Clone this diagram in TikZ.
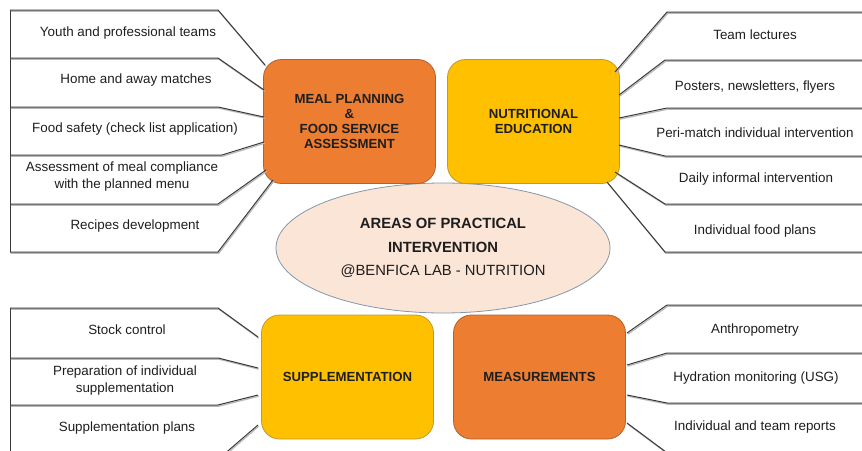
\documentclass[tikz,border=0pt]{standalone}
\usepackage{fontspec}
\setmainfont{Liberation Sans}
\usetikzlibrary{shapes.geometric}
\definecolor{orangebox}{HTML}{ED7D31}
\definecolor{orangeedge}{HTML}{B4622A}
\definecolor{goldbox}{HTML}{FFC000}
\definecolor{goldedge}{HTML}{BF9A2E}
\definecolor{peach}{HTML}{FBE5D6}
\definecolor{peachedge}{HTML}{8497A8}
\definecolor{linkgray}{HTML}{3A3A3A}
\definecolor{linkshade}{HTML}{B8B8B8}
\definecolor{inkgray}{HTML}{1E1E1E}
\tikzset{
  areabox/.style={draw, line width=0.8pt, rounded corners=18pt,
    minimum width=172pt, minimum height=124pt, inner sep=2pt, align=center,
    font=\bfseries\fontsize{13.2}{15}\selectfont, text=inkgray},
  mealbox/.style={areabox, fill=orangebox, draw=orangeedge},
  goldarea/.style={areabox, fill=goldbox, draw=goldedge},
  core/.style={ellipse, draw=peachedge, fill=peach, line width=0.8pt,
    minimum width=334pt, minimum height=130pt, inner sep=0pt, align=center,
    font=\fontsize{14.8}{23.5}\selectfont, text=inkgray},
  item/.style={align=center, inner sep=0pt, text=inkgray,
    font=\fontsize{13.4}{17}\selectfont},
  link/.style={draw=linkgray, line width=1pt,
    preaction={draw=linkshade, line width=1.2pt,
      transform canvas={shift={(0.8pt,-1.2pt)}}}},
}
\begin{document}
\begin{tikzpicture}[x=1pt,y=-1pt]
\useasboundingbox (0,0) rectangle (862,450);

% central topic
\node[core] (core) at (443,248)
  {\textbf{AREAS OF PRACTICAL}\\\textbf{INTERVENTION}\\@BENFICA LAB - NUTRITION};

% the four areas
\node[mealbox] (meal) at (349.5,121.5)
  {MEAL PLANNING\\\&\\FOOD SERVICE\\ASSESSMENT};
\node[goldarea] (edu) at (533.5,121.5) {NUTRITIONAL\\EDUCATION};
\node[goldarea] (supp) at (347.5,377) {SUPPLEMENTATION};
\node[mealbox] (meas) at (539.5,377) {MEASUREMENTS};

% items of meal planning
\node[item] (m1) at (128,33) {Youth and professional teams};
\node[item] (m2) at (136,80) {Home and away matches};
\node[item] (m3) at (135,129) {Food safety (check list application)};
\node[item] (m4) at (122,176.5) {Assessment of meal compliance\\with the planned menu};
\node[item] (m5) at (135,226) {Recipes development};

% items of nutritional education
\node[item] (e1) at (755,35) {Team lectures};
\node[item] (e2) at (755,87) {Posters, newsletters, flyers};
\node[item] (e3) at (755,133) {Peri-match individual intervention};
\node[item] (e4) at (756,179) {Daily informal intervention};
\node[item] (e5) at (755,231) {Individual food plans};

% items of supplementation
\node[item] (s1) at (127,330) {Stock control};
\node[item] (s2) at (125,380.5) {Preparation of individual\\supplementation};
\node[item] (s3) at (127,428) {Supplementation plans};

% items of measurements
\node[item] (r1) at (755,330) {Anthropometry};
\node[item] (r2) at (756,378) {Hydration monitoring (USG)};
\node[item] (r3) at (755,427) {Individual and team reports};

% attachment points on the area boxes
\coordinate (ma1) at (265,65);
\coordinate (ma2) at (264,90);
\coordinate (ma3) at (264,117);
\coordinate (ma4) at (264,142);
\coordinate (ma5) at (266,170);
\coordinate (ma6) at (273,180);
\coordinate (ea1) at (615,72);
\coordinate (ea2) at (619,95);
\coordinate (ea3) at (619,118);
\coordinate (ea4) at (619,145);
\coordinate (ea5) at (615,172);
\coordinate (ea6) at (607,182);
\coordinate (sa1) at (258,337);
\coordinate (sa2) at (258,368);
\coordinate (sa3) at (258,395);
\coordinate (sa4) at (258,425);
\coordinate (ra1) at (627,333);
\coordinate (ra2) at (627,365);
\coordinate (ra3) at (627,395);
\coordinate (ra4) at (627,423);

% meal planning callouts
\draw[link] (10,10) -- (10,252);
\draw[link] (10,10) -- (218,10) -- (ma1);
\draw[link] (10,58) -- (218,58) -- (ma2);
\draw[link] (10,107) -- (218,107) -- (ma3);
\draw[link] (10,155) -- (222,155) -- (ma4);
\draw[link] (10,204) -- (218,204) -- (ma5);
\draw[link] (10,252) -- (218,252) -- (ma6);

% nutritional education callouts
\draw[link] (ea1) -- (667,12) -- (870,12);
\draw[link] (ea2) -- (665,60) -- (870,60);
\draw[link] (ea3) -- (667,108) -- (870,108);
\draw[link] (ea4) -- (665,156) -- (870,156);
\draw[link] (ea5) -- (665,204) -- (870,204);
\draw[link] (ea6) -- (665,252) -- (870,252);

% supplementation callouts
\draw[link] (10,308) -- (10,460);
\draw[link] (10,308) -- (218,308) -- (sa1);
\draw[link] (10,358) -- (218,358) -- (sa2);
\draw[link] (10,405) -- (218,405) -- (sa3);
\draw[link] (10,456) -- (222,456) -- (sa4);

% measurement callouts
\draw[link] (ra1) -- (667,305) -- (870,305);
\draw[link] (ra2) -- (667,353) -- (870,353);
\draw[link] (ra3) -- (667,403) -- (870,403);
\draw[link] (ra4) -- (670,455) -- (870,455);
\end{tikzpicture}
\end{document}
